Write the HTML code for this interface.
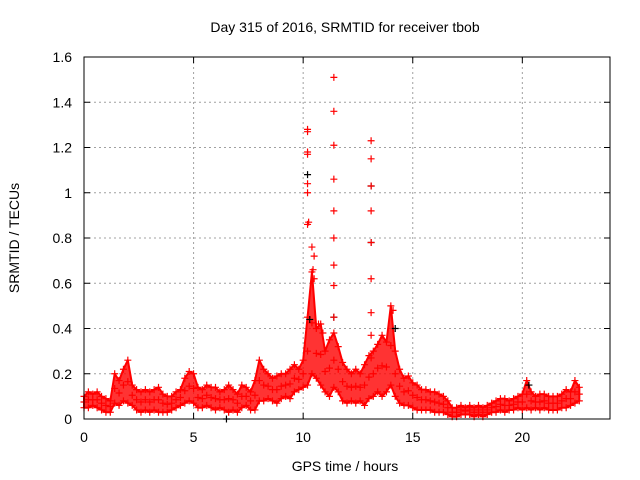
<!DOCTYPE html>
<html><head><meta charset="utf-8">
<style>
html,body{margin:0;padding:0;background:#fff;}
svg{display:block;font-family:"Liberation Sans",sans-serif;}
</style></head>
<body>
<svg id="chart" width="640" height="480" viewBox="0 0 640 480" xmlns="http://www.w3.org/2000/svg">
<rect width="640" height="480" fill="#fff"/>
<text x="345" y="32" font-size="14" text-anchor="middle" fill="#000">Day 315 of 2016, SRMTID for receiver tbob</text>
<text transform="translate(19,238) rotate(-90)" font-size="14" text-anchor="middle" fill="#000">SRMTID / TECUs</text>
<text x="345" y="471" font-size="14" text-anchor="middle" fill="#000">GPS time / hours</text>
<g id="grid"></g>
<g id="marks"></g>
<rect x="84" y="57" width="526" height="362" fill="none" stroke="#000" stroke-width="1"/>
<g id="ticks"></g>
</svg>
<script>
const xTicks=[0,5,10,15,20];
const yTicks=[0,0.2,0.4,0.6,0.8,1,1.2,1.4,1.6];
const yTickLabels=["0","0.2","0.4","0.6","0.8","1","1.2","1.4","1.6"];
const times=[0,0.2,0.4,0.6,0.8,1,1.2,1.4,1.6,1.8,2,2.2,2.4,2.6,2.8,3,3.2,3.4,3.6,3.8,4,4.2,4.4,4.6,4.8,5,5.2,5.4,5.6,5.8,6,6.2,6.4,6.6,6.8,7,7.2,7.4,7.6,7.8,8,8.2,8.4,8.6,8.8,9,9.2,9.4,9.6,9.8,10,10.2,10.4,10.6,10.8,11,11.2,11.4,11.6,11.8,12,12.2,12.4,12.6,12.8,13,13.2,13.4,13.6,13.8,14,14.2,14.4,14.6,14.8,15,15.2,15.4,15.6,15.8,16,16.2,16.4,16.6,16.8,17,17.2,17.4,17.6,17.8,18,18.2,18.4,18.6,18.8,19,19.2,19.4,19.6,19.8,20,20.2,20.4,20.6,20.8,21,21.2,21.4,21.6,21.8,22,22.2,22.4,22.6];
const lowVals=[.05,.05,.06,.05,.04,.03,.03,.07,.06,.08,.07,.06,.04,.03,.04,.03,.04,.03,.03,.03,.04,.05,.06,.07,.08,.07,.05,.05,.06,.05,.04,.05,.04,.03,.04,.03,.05,.06,.04,.04,.08,.08,.09,.08,.07,.09,.10,.09,.12,.13,.14,.15,.20,.18,.15,.12,.10,.14,.12,.08,.07,.08,.07,.08,.06,.09,.10,.12,.10,.12,.15,.10,.07,.06,.06,.05,.04,.04,.04,.04,.03,.03,.03,.02,.01,.01,.02,.02,.02,.01,.02,.01,.02,.03,.03,.04,.03,.04,.04,.05,.04,.05,.04,.05,.04,.05,.04,.04,.04,.05,.05,.06,.07,.08];
const highVals=[.10,.12,.11,.12,.10,.09,.08,.20,.17,.22,.26,.15,.13,.12,.13,.12,.13,.14,.11,.10,.10,.12,.13,.18,.21,.20,.14,.13,.15,.14,.14,.12,.13,.15,.13,.11,.15,.14,.12,.17,.26,.22,.20,.18,.19,.20,.20,.22,.24,.22,.26,.45,.65,.40,.42,.30,.35,.38,.32,.25,.22,.20,.22,.20,.24,.28,.30,.33,.37,.34,.50,.30,.22,.18,.19,.16,.15,.13,.13,.12,.12,.11,.10,.08,.05,.05,.06,.05,.06,.05,.06,.05,.06,.07,.08,.09,.09,.08,.09,.10,.11,.17,.12,.10,.11,.11,.10,.10,.10,.11,.13,.12,.17,.14];
const spikeTimes=[10.2,10.2,10.2,10.2,10.2,10.2,10.25,10.2,10.4,10.5,10.45,10.5,11.4,11.4,11.4,11.4,11.4,11.4,11.4,11.4,11.4,13.1,13.1,13.1,13.1,13.1,13.1,13.1,13.1,13.1,10.7,10.9,14.1];
const spikeVals=[1.28,1.27,1.18,1.17,1.04,1.0,0.87,0.86,0.76,0.72,0.66,0.62,1.51,1.36,1.21,1.06,0.92,0.80,0.68,0.59,0.45,1.23,1.15,1.03,0.92,0.78,0.62,0.47,0.37,0.27,0.42,0.38,0.48];
const blackTimes=[10.2,13.1,13.1,11.4,10.3,14.2,6.5,20.3];
const blackVals=[1.08,1.03,0.78,0.45,0.44,0.40,0.0,0.15];

const X0=84,X1=610,Y0=419,Y1=57;
const xs=v=>X0+(v/24)*(X1-X0);
const ys=v=>Y0-(v/1.6)*(Y0-Y1);
const NS="http://www.w3.org/2000/svg";
function mk(tag,attrs,parent){const e=document.createElementNS(NS,tag);for(const k in attrs)e.setAttribute(k,attrs[k]);parent.appendChild(e);return e;}
const grid=document.getElementById('grid'),marks=document.getElementById('marks'),ticks=document.getElementById('ticks');
xTicks.forEach(t=>{
  const x=xs(t);
  if(t>0){const g=mk('line',{x1:x,x2:x,y1:Y1,y2:Y0,stroke:'#a0a0a0','stroke-dasharray':'2,3','stroke-width':1},grid);
  
  }
  const a=mk('line',{x1:x,x2:x,y1:Y0,y2:Y0-6,stroke:'#000'},ticks);
  
  
  const b=mk('line',{x1:x,x2:x,y1:Y1,y2:Y1+6,stroke:'#000'},ticks);
  
  
  const l=mk('text',{x:x,y:Y0+23,'font-size':14,'text-anchor':'middle',fill:'#000'},ticks);
  l.textContent=String(t);
  
  
});
yTicks.forEach((t,i)=>{
  const y=ys(t);
  if(i>0&&i<yTicks.length-1){const g=mk('line',{x1:X0,x2:X1,y1:y,y2:y,stroke:'#a0a0a0','stroke-dasharray':'2,3','stroke-width':1},grid);
  
  }
  const a=mk('line',{x1:X0,x2:X0+6,y1:y,y2:y,stroke:'#000'},ticks);
  
  
  const b=mk('line',{x1:X1,x2:X1-6,y1:y,y2:y,stroke:'#000'},ticks);
  
  
  const l=mk('text',{x:X0-12,y:y+5,'font-size':14,'text-anchor':'end',fill:'#000'},ticks);
  l.textContent=yTickLabels[i];
  
  
});
let pts=times.map((t,i)=>xs(t)+','+ys(highVals[i]));
for(let i=times.length-1;i>=0;i--)pts.push(xs(times[i])+','+ys(lowVals[i]));
const band=mk('polygon',{points:pts.join(' '),fill:'#ff0000','fill-opacity':0.8,stroke:'#ff0000','stroke-width':2,'stroke-linejoin':'round'},marks);


function cross(t,v,color,name){
  const x=xs(t),y=ys(v);
  const p=mk('path',{d:`M${x-3.5},${y}H${x+3.5}M${x},${y-3.5}V${y+3.5}`,stroke:color,'stroke-width':1.2,fill:'none'},marks);
  
  
}
times.forEach((t,i)=>{
  cross(t,lowVals[i],'#ff0000','srmtid-point');
  cross(t,highVals[i],'#ff0000','srmtid-point');
  cross(t,(lowVals[i]+highVals[i])/2,'#ff0000','srmtid-point');
});
blackTimes.forEach((t,i)=>cross(t,blackVals[i],'#000','srmtid-point-black'));
spikeTimes.forEach((t,i)=>cross(t,spikeVals[i],'#ff0000','srmtid-spike-point'));
</script>
</body></html>
